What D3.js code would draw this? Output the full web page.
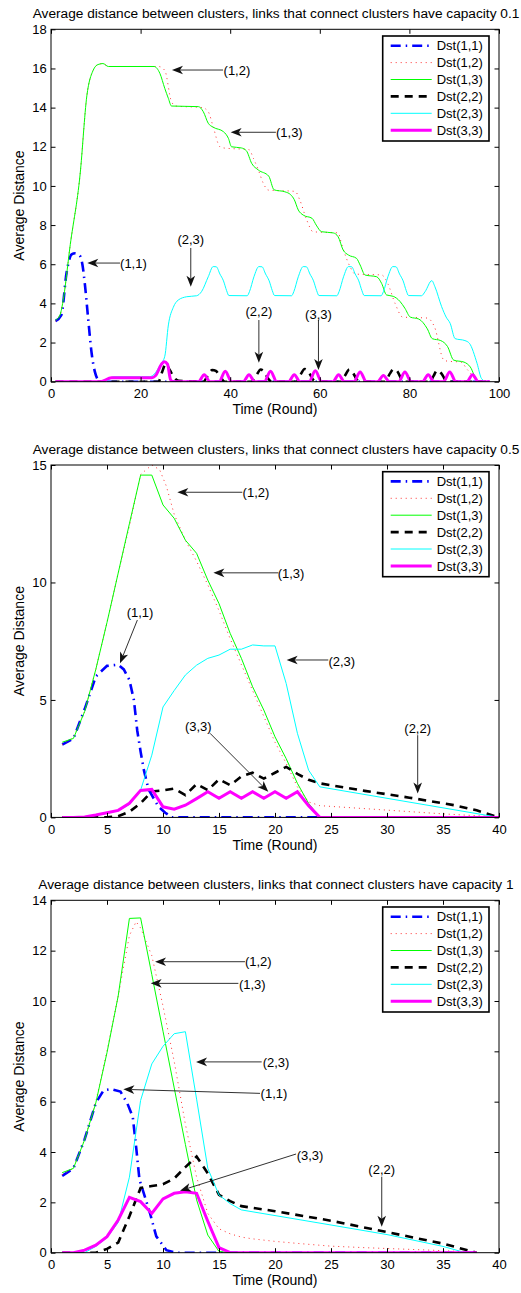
<!DOCTYPE html>
<html>
<head>
<meta charset="utf-8">
<script src="https://cdn.jsdelivr.net/npm/d3@7"></script>
<style>
body { margin: 0; background: #fff; }
svg text { font-family: "Liberation Sans", Arial, Helvetica, sans-serif; fill: #000; }
</style>
</head>
<body>
<svg id="chart" width="521" height="1293"></svg>
<script>
var TITLE_PREFIX = "Average distance between clusters, links that connect clusters have capacity ";
var CAPACITIES = ["0.1", "0.5", "1"];
var LEGEND_LABELS = ["Dst(1,1)", "Dst(1,2)", "Dst(1,3)", "Dst(2,2)", "Dst(2,3)", "Dst(3,3)"];
var X_LABEL = "Time (Round)";
var Y_LABEL = "Average Distance";

// ---- capacity 0.1 : [round, distance]
var cap1_dst11 = [[1,3.1],[2.3,3.4],[3.5,5.6],[4.6,6.5],[5.4,6.56],[6.4,6.45],[7.0,6.0],[7.6,4.9],[8.3,3.2],[9.1,1.4],[9.8,0.5],[10.5,0.1],[11.2,0],[98,0]];
var cap1_dst12 = [[1,3.1],[2,3.4],[2.6,4.0],[4.3,7.0],[6.5,10.6],[8.0,14.6],[9.4,15.9],[10.5,16.2],[11.6,16.25],[12.8,16.1],[24,16.1],[25.4,15.9],[26.9,14.3],[27.9,14.08],[33.8,14.0],[35.1,13.79],[36.2,13.02],[37.7,12.0],[38.5,11.94],[44.2,11.85],[45.2,11.4],[46.3,10.8],[47.4,10.13],[48.5,9.79],[54.5,9.72],[55.5,9.3],[57.1,8.25],[58.5,7.66],[64.1,7.6],[64.9,7.0],[66.7,5.9],[67.9,5.5],[73.8,5.45],[75.2,5.0],[76.8,4.0],[78.5,3.3],[84,3.25],[85.6,2.8],[87.7,1.1],[88.5,1.05],[91.5,1.0],[93,0.6],[95.8,0],[98,0]];
var cap1_dst13 = [[1,3.15],[2,3.4],[2.6,4.0],[4.3,7.0],[6.5,10.6],[8.0,14.6],[9.4,15.9],[10.5,16.2],[11.6,16.25],[12.8,16.1],[23,16.1],[24.3,15.75],[25.4,14.98],[26.2,14.47],[26.9,14.08],[32.9,14.05],[34,13.79],[35.1,13.2],[36.2,13.0],[38.5,12.77],[39.6,12.43],[40.3,12.0],[42.5,11.94],[43.6,11.8],[44.8,11.15],[46.3,10.81],[48.6,10.5],[49.8,9.8],[52.2,9.7],[53.5,9.55],[54.3,9.3],[55.2,8.77],[56.3,8.51],[58.3,8.34],[59.2,8.0],[60.4,7.66],[63,7.6],[64.1,7.4],[65.2,6.73],[66.4,6.47],[68.2,6.3],[69,5.96],[70.1,5.45],[72.7,5.36],[73.8,5.02],[74.9,4.43],[76.4,4.36],[77.9,4.1],[79,3.75],[80.2,3.3],[82.1,3.2],[84,2.7],[85.1,2.2],[87,2.1],[88.5,1.8],[89.9,1.1],[92.2,1.0],[93.6,0.75],[95.1,0.07],[96,0],[98,0]];
var cap1_dst22 = [[1,0],[24,0],[24.8,0.5],[25.6,0.9],[26.5,0.6],[27.5,0.2],[28.5,0.05],[34,0],[35,0.3],[36,0.6],[36.8,0.55],[37.8,0.25],[38.8,0],[44.8,0],[45.8,0.3],[46.8,0.62],[47.6,0.5],[48.5,0.15],[49.3,0],[54.8,0],[55.8,0.4],[56.6,0.65],[57.5,0.5],[58.5,0.1],[59.2,0],[64.6,0],[65.6,0.3],[66.6,0.62],[67.4,0.45],[68.3,0.1],[69,0],[74.6,0],[75.6,0.4],[76.5,0.65],[77.4,0.5],[78.3,0.1],[79,0],[84.6,0],[85.4,0.3],[86.2,0.58],[87.2,0.4],[88.2,0.05],[89,0],[98,0]];
var cap1_dst23 = [[1,0],[12,0],[13.9,0.25],[22,0.25],[22.6,0.3],[24.5,0.9],[25.4,1.3],[26.2,2.9],[27.3,3.8],[28.4,4.17],[30.3,4.34],[32.5,4.39],[33.6,4.6],[35.1,5.36],[36.2,5.88],[36.9,5.87],[37.7,5.5],[38.5,5.15],[39.2,4.65],[39.7,4.4],[43.8,4.39],[44.3,4.6],[45.3,5.36],[46.4,5.88],[47.1,5.87],[47.9,5.5],[48.7,5.15],[49.4,4.65],[49.9,4.4],[53.7,4.39],[54.2,4.6],[55.2,5.36],[56.3,5.88],[57,5.87],[57.8,5.5],[58.6,5.15],[59.3,4.65],[59.8,4.4],[63.8,4.39],[64.3,4.6],[65.3,5.36],[66.4,5.88],[67.1,5.87],[67.9,5.5],[68.7,5.15],[69.4,4.65],[69.9,4.4],[73.7,4.39],[74.2,4.6],[75.2,5.36],[76.3,5.88],[77,5.87],[77.8,5.5],[78.6,5.15],[79.3,4.65],[79.8,4.4],[82.7,4.39],[83.5,4.6],[85,5.16],[85.7,4.85],[87.2,3.83],[88.2,3.3],[89.1,2.98],[90.2,2.2],[92.4,2.1],[93.4,1.96],[95.1,0.94],[96.1,0.16],[97.2,0],[98,0]];
var cap1_dst33 = [[1,0],[11,0],[13.5,0.2],[22.5,0.2],[23.3,0.3],[24.7,0.9],[25.3,1.02],[26,0.9],[26.7,0.1],[27.3,0],[32.9,0],[34.2,0.36],[35.5,0],[37.5,0],[38.9,0.53],[40.3,0],[42.9,0],[44.2,0.36],[45.5,0],[47.6,0],[49,0.53],[50.4,0],[53,0],[54.3,0.36],[55.6,0],[57.6,0],[59,0.56],[60.4,0],[62.9,0],[64.2,0.36],[65.5,0],[67.6,0],[69,0.5],[70.4,0],[72.9,0],[74.2,0.32],[75.5,0],[77.6,0],[79,0.5],[80.4,0],[82.9,0],[84.2,0.36],[85.5,0],[87.6,0],[89,0.5],[90.4,0],[92.8,0],[94.1,0.36],[95.4,0],[98,0]];
var cap1_xTicks = [0, 20, 40, 60, 80, 100];
var cap1_yTicks = [0, 2, 4, 6, 8, 10, 12, 14, 16, 18];
var cap1_notes = [
    {label: "(1,2)", text: [41.5, 15.92], tail: [38.4, 15.92], tip: [27.0, 15.92]},
    {label: "(1,3)", text: [53.2, 12.74], tail: [50.2, 12.74], tip: [40.1, 12.74]},
    {label: "(1,1)", text: [18.4, 6.06], tail: [15.4, 6.06], tip: [8.1, 6.06]},
    {label: "(2,3)", text: [31.2, 7.29], tail: [31.2, 6.83], tip: [31.2, 4.85]},
    {label: "(2,2)", text: [46.4, 3.58], tail: [46.4, 3.15], tip: [46.4, 0.97]},
    {label: "(3,3)", text: [59.7, 3.46], tail: [59.7, 3.15], tip: [59.7, 0.6]}
];

// ---- capacity 0.5
var cap2_dst11 = [[1,3.1],[2,3.35],[3,4.6],[4,6.0],[5,6.45],[6,6.5],[6.5,6.3],[7,5.85],[7.4,5.0],[7.7,3.7],[8,2.8],[8.3,2.0],[8.7,1.2],[9.6,0.45],[10.2,0.2],[10.8,0],[40,0]];
var cap2_dst12 = [[1,3.1],[2,3.4],[3,4.5],[4,6.3],[5,8.3],[6,10.4],[7,12.4],[8,14.6],[9,15.0],[9.7,14.8],[10.3,14.1],[11,12.9],[12,11.8],[13,10.9],[14,9.9],[15,8.8],[16,7.6],[17,6.5],[18,5.4],[19,4.3],[20,3.2],[21,2.3],[22,1.3],[23,0.66],[24,0.5],[30,0.31],[35,0.15],[40,0.02]];
var cap2_dst13 = [[1,3.2],[2,3.36],[3,4.5],[4,6.3],[5,8.3],[6,10.4],[7,12.5],[8,14.57],[9,14.57],[10,13.3],[11,12.73],[12,11.8],[13,11.24],[14,10.1],[15,9.1],[16,7.83],[17,6.77],[18,5.56],[19,4.57],[20,3.43],[21,2.5],[22,1.45],[23,0.6],[24,0],[40,0]];
var cap2_dst22 = [[1,0],[5,0],[6,0.05],[7,0.24],[8,0.6],[9,1.1],[10,1.15],[11,1.23],[12,0.95],[13,1.42],[14,1.16],[15,1.62],[16,1.37],[17,1.75],[18,1.9],[19,1.65],[20,1.9],[21,2.15],[22,1.85],[23,1.6],[24,1.45],[28,1.13],[32,0.84],[36,0.52],[38,0.3],[40,0]];
var cap2_dst23 = [[1,0],[3,0],[4,0.08],[5,0.18],[6,0.28],[7,0.55],[8,1.16],[9,2.65],[10,4.7],[11,5.4],[12,6.06],[13,6.48],[14,6.77],[15,6.91],[16,7.16],[17,7.16],[18,7.34],[19,7.3],[20,7.3],[21,5.7],[22,3.58],[23,2.01],[24,1.3],[40,0]];
var cap2_dst33 = [[1,0],[2,0],[3,0.02],[4,0.1],[5,0.2],[6,0.3],[7,0.6],[8,1.15],[9,1.19],[10,0.45],[11,0.35],[12,0.52],[13,0.8],[14,1.09],[15,0.81],[16,1.09],[17,0.81],[18,1.09],[19,0.81],[20,1.09],[21,0.81],[22,1.09],[23,0.5],[24,0],[40,0]];
var cap2_xTicks = [0, 5, 10, 15, 20, 25, 30, 35, 40];
var cap2_yTicks = [0, 5, 10, 15];
var cap2_notes = [
    {label: "(1,2)", text: [18.3, 13.84], tail: [17.08, 13.84], tip: [11.28, 13.84]},
    {label: "(1,3)", text: [21.43, 10.41], tail: [20.3, 10.41], tip: [14.5, 10.41]},
    {label: "(1,1)", text: [7.95, 8.71], tail: [7.71, 8.4], tip: [6.16, 6.56]},
    {label: "(2,3)", text: [25.96, 6.65], tail: [24.76, 6.7], tip: [21.04, 6.7]},
    {label: "(3,3)", text: [13.15, 3.86], tail: [14.2, 3.58], tip: [19.4, 1.09]},
    {label: "(2,2)", text: [32.74, 3.81], tail: [32.74, 3.5], tip: [32.74, 1.02]}
];

// ---- capacity 1
var cap3_dst11 = [[1,3.05],[2,3.35],[3,4.5],[4,5.95],[4.7,6.45],[5.4,6.5],[6.2,6.4],[6.8,5.95],[7.3,5.4],[7.6,4.2],[7.9,2.9],[8.4,2.2],[8.85,1.55],[9.4,0.65],[10.3,0.1],[11.2,0],[38,0]];
var cap3_dst12 = [[1,3.1],[2,3.35],[3,4.5],[4,6.0],[5,8.0],[6,10.2],[7,12.6],[7.6,13.15],[8,12.9],[9,11.8],[10,9.8],[11,7.6],[12,5.1],[13,3.0],[14,1.56],[15,0.95],[16,0.75],[17,0.62],[18,0.55],[20,0.45],[22,0.37],[25,0.26],[28,0.2],[31,0.15],[34,0.1],[36,0.06],[38,0.02]];
var cap3_dst13 = [[1,3.18],[2,3.35],[3,4.48],[4,5.95],[5,7.95],[6,10.2],[7,13.28],[8,13.3],[9,11.05],[10,8.8],[11,6.55],[12,4.3],[13,2.1],[14,0.7],[15,0.05],[16,0],[38,0]];
var cap3_dst22 = [[1,0],[4,0],[5,0.15],[6,0.4],[7,1.45],[8,2.57],[9,2.65],[10,2.72],[11,2.95],[12,3.4],[13,3.82],[14,3.15],[15,2.3],[16,2.05],[17,1.85],[20,1.65],[25,1.27],[30,0.82],[35,0.36],[38,0]];
var cap3_dst23 = [[1,0],[3,0],[4,0.25],[5,0.6],[6,1.2],[7,3.0],[8,6.05],[9,7.5],[10,8.2],[11,8.7],[12,8.78],[13,6.1],[14,3.35],[15,2.29],[16,1.95],[17,1.7],[25,1.1],[30,0.72],[35,0.25],[37,0],[38,0]];
var cap3_dst33 = [[1,0],[2,0],[3,0.1],[4,0.3],[5,0.64],[6,1.3],[7,2.2],[8,2.03],[9,1.56],[10,2.14],[11,2.36],[12,2.42],[13,2.36],[14,1.25],[15,0.2],[16,0],[38,0]];
var cap3_xTicks = [0, 5, 10, 15, 20, 25, 30, 35, 40];
var cap3_yTicks = [0, 2, 4, 6, 8, 10, 12, 14];
var cap3_notes = [
    {label: "(1,2)", text: [18.51, 11.56], tail: [17.32, 11.56], tip: [9.29, 11.56]},
    {label: "(1,3)", text: [17.97, 10.68], tail: [16.73, 10.7], tip: [8.9, 10.7]},
    {label: "(2,3)", text: [20.09, 7.56], tail: [18.81, 7.58], tip: [12.95, 7.58]},
    {label: "(1,1)", text: [19.91, 6.33], tail: [18.66, 6.33], tip: [6.46, 6.49]},
    {label: "(3,3)", text: [23.13, 3.88], tail: [21.88, 3.92], tip: [11.52, 2.46]},
    {label: "(2,2)", text: [29.53, 3.31], tail: [29.53, 3.02], tip: [29.53, 1.03]}
];

var SERIES_STYLE = [
    {color: "#0000ff", width: 2.6, dash: "10,5,1.5,5"},
    {color: "#ff3030", width: 1, dash: "1,4"},
    {color: "#00ff00", width: 1, dash: null},
    {color: "#000000", width: 2.6, dash: "8,6"},
    {color: "#00ffff", width: 1, dash: null},
    {color: "#ff00ff", width: 3, dash: null}
];

var LEFT = 51, RIGHT = 499, PLOT_H = 352.4, TICK = 4.5;

var panels = [
    {top: 29.3, xMax: 100, yMax: 18, xTicks: cap1_xTicks, yTicks: cap1_yTicks, notes: cap1_notes,
     series: [cap1_dst11, cap1_dst12, cap1_dst13, cap1_dst22, cap1_dst23, cap1_dst33], curve: d3.curveMonotoneX},
    {top: 465, xMax: 40, yMax: 15, xTicks: cap2_xTicks, yTicks: cap2_yTicks, notes: cap2_notes,
     series: [cap2_dst11, cap2_dst12, cap2_dst13, cap2_dst22, cap2_dst23, cap2_dst33], curve: d3.curveLinear},
    {top: 900.3, xMax: 40, yMax: 14, xTicks: cap3_xTicks, yTicks: cap3_yTicks, notes: cap3_notes,
     series: [cap3_dst11, cap3_dst12, cap3_dst13, cap3_dst22, cap3_dst23, cap3_dst33], curve: d3.curveLinear}
];

function styleLine(sel, st) {
    sel.attr("fill", "none")
        .attr("stroke", st.color)
        .attr("stroke-width", st.width)
        .attr("stroke-dasharray", st.dash);
}

function drawAxes(g, x, y, p) {
    let bottom = p.top + PLOT_H;
    let fix = a => {
        a.attr("font-size", 13).attr("font-family", null);
        a.select(".domain").remove();
        a.selectAll(".tick line").attr("stroke", "#000");
    };
    g.append("g").attr("transform", "translate(0," + bottom + ")")
        .call(d3.axisBottom(x).tickValues(p.xTicks).tickSizeInner(-TICK).tickSizeOuter(0).tickPadding(7.5))
        .call(fix);
    g.append("g").attr("transform", "translate(0," + p.top + ")")
        .call(d3.axisTop(x).tickValues(p.xTicks).tickSizeInner(-TICK).tickSizeOuter(0).tickFormat(""))
        .call(fix);
    g.append("g").attr("transform", "translate(" + LEFT + ",0)")
        .call(d3.axisLeft(y).tickValues(p.yTicks).tickSizeInner(-TICK).tickSizeOuter(0).tickPadding(4.3))
        .call(fix);
    g.append("g").attr("transform", "translate(" + RIGHT + ",0)")
        .call(d3.axisRight(y).tickValues(p.yTicks).tickSizeInner(-TICK).tickSizeOuter(0).tickFormat(""))
        .call(fix);

    g.append("rect")
        .attr("x", LEFT).attr("y", p.top)
        .attr("width", RIGHT - LEFT).attr("height", PLOT_H)
        .attr("fill", "none").attr("stroke", "#000").attr("stroke-width", 1);
}

function drawNotes(g, x, y, notes) {
    for (let n of notes) {
        let x1 = x(n.tail[0]), y1 = y(n.tail[1]);
        let x2 = x(n.tip[0]), y2 = y(n.tip[1]);
        let ang = Math.atan2(y2 - y1, x2 - x1);
        g.append("line")
            .attr("x1", x1).attr("y1", y1)
            .attr("x2", x2 - 8 * Math.cos(ang)).attr("y2", y2 - 8 * Math.sin(ang))
            .attr("stroke", "#1a1a1a").attr("stroke-width", 0.9);
        g.append("path")
            .attr("d", "M0,0L-11,-4.3L-8,0L-11,4.3Z")
            .attr("transform", "translate(" + x2 + "," + y2 + ") rotate(" + (ang * 180 / Math.PI) + ")")
            .attr("fill", "#111");
        g.append("text")
            .attr("x", x(n.text[0])).attr("y", y(n.text[1]))
            .attr("dy", "0.36em")
            .attr("text-anchor", "middle")
            .attr("font-size", 13)
            .text(n.label);
    }
}

function drawLegend(g, p) {
    let bx = RIGHT - 116.3, by = p.top + 6.7;
    g.append("rect")
        .attr("x", bx).attr("y", by).attr("width", 106.3).attr("height", 105)
        .attr("fill", "#fff").attr("stroke", "#000").attr("stroke-width", 1.6);
    LEGEND_LABELS.forEach((lab, i) => {
        let ly = by + 9.7 + i * 16.9;
        g.append("line")
            .attr("x1", bx + 8).attr("x2", bx + 49)
            .attr("y1", ly).attr("y2", ly)
            .call(styleLine, SERIES_STYLE[i]);
        g.append("text")
            .attr("x", bx + 54).attr("y", ly)
            .attr("dy", "0.36em")
            .attr("font-size", 13)
            .text(lab);
    });
}

function drawPanel(svg, p, idx) {
    let x = d3.scaleLinear().domain([0, p.xMax]).range([LEFT, RIGHT]);
    let y = d3.scaleLinear().domain([0, p.yMax]).range([p.top + PLOT_H, p.top]);
    let g = svg.append("g");

    g.append("clipPath").attr("id", "clip" + idx)
        .append("rect")
        .attr("x", LEFT).attr("y", p.top - 1)
        .attr("width", RIGHT - LEFT).attr("height", PLOT_H + 1);

    let line = d3.line().x(d => x(d[0])).y(d => y(d[1])).curve(p.curve);
    let lines = g.append("g").attr("clip-path", "url(#clip" + idx + ")");
    p.series.forEach((s, i) => {
        lines.append("path").attr("d", line(s)).call(styleLine, SERIES_STYLE[i]);
    });

    drawAxes(g, x, y, p);
    drawNotes(g, x, y, p.notes);
    drawLegend(g, p);

    let mid = (LEFT + RIGHT) / 2;
    g.append("text")
        .attr("x", mid + 1).attr("y", p.top - 11.5)
        .attr("text-anchor", "middle")
        .attr("font-size", 13.7)
        .text(TITLE_PREFIX + CAPACITIES[idx]);
    g.append("text")
        .attr("x", mid).attr("y", p.top + PLOT_H + 32.5)
        .attr("text-anchor", "middle")
        .attr("font-size", 14)
        .text(X_LABEL);
    g.append("text")
        .attr("transform", "translate(19," + (p.top + PLOT_H / 2) + ") rotate(-90)")
        .attr("dy", "0.36em")
        .attr("text-anchor", "middle")
        .attr("font-size", 14)
        .text(Y_LABEL);
}

document.addEventListener("DOMContentLoaded", () => {
    let svg = d3.select("#chart");
    svg.append("rect").attr("width", 521).attr("height", 1293).attr("fill", "#fff");
    panels.forEach((p, i) => drawPanel(svg, p, i));
});
</script>
</body>
</html>
